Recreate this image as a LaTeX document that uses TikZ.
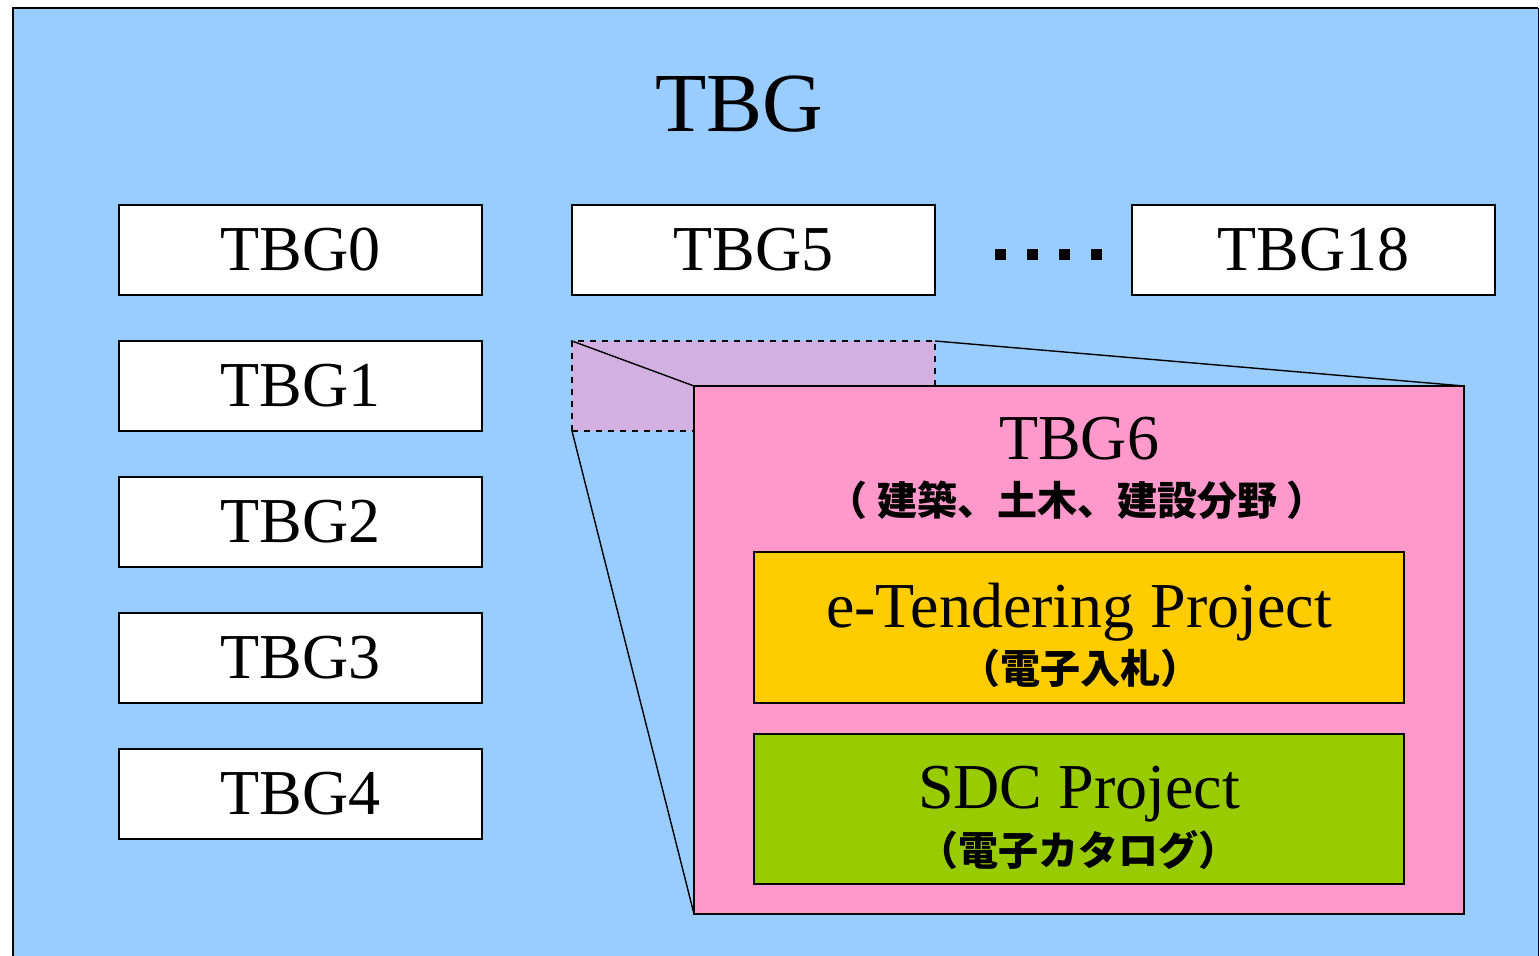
\documentclass[tikz,border=0pt]{standalone}
\usepackage{fontspec}
\setmainfont{Liberation Serif}
\newfontfamily\jp{Noto Sans CJK JP}
\definecolor{bgblue}{HTML}{99CCFF}
\definecolor{pinkbox}{HTML}{FF99CC}
\definecolor{lav}{HTML}{D2B0E2}
\definecolor{yel}{HTML}{FFCC00}
\definecolor{grn}{HTML}{99CC00}
\begin{document}
\begin{tikzpicture}[x=0.5pt,y=-0.5pt,
  tbox/.style={draw=black,line width=0.7pt,fill=white,anchor=north west,inner sep=0pt,outer sep=0pt,minimum width=181.5pt,minimum height=45pt,font=\fontsize{32}{38}\selectfont},
  big/.style={draw=black,line width=0.7pt,anchor=north west,inner sep=0pt,outer sep=0pt},
  lbl/.style={inner sep=0pt,align=center},
  en/.style={font=\fontsize{32}{38}\selectfont,anchor=base},
  jptext/.style={font=\jp\bfseries\fontsize{20}{24}\selectfont}]
\useasboundingbox (0,0) rectangle (1540,956);
\fill[white] (0,0) rectangle (1540,956);
\fill[bgblue] (13,8) rectangle (1538,960);
\draw[line width=1pt] (13,960) -- (13,8) -- (1538,8);
\draw[line width=0.4pt,draw=black!70!blue] (1538,8) -- (1538,960);
\node[lbl,font=\fontsize{42}{48}\selectfont,anchor=base] (title) at (739,132) {TBG};
\node[tbox] (t0) at (119,205) {TBG0};
\node[tbox] (t1) at (119,341) {TBG1};
\node[tbox] (t2) at (119,477) {TBG2};
\node[tbox] (t3) at (119,613) {TBG3};
\node[tbox] (t4) at (119,749) {TBG4};
\node[tbox] (t5) at (572,205) {TBG5};
\node[tbox] (t18) at (1132,205) {TBG18};
\foreach \i in {0,1,2,3}{\fill (995+32*\i,249) rectangle ++(11,11);}
\node[big,dashed,fill=lav,minimum width=181.5pt,minimum height=45pt] (dz) at (572,341) {};
\coordinate (p1) at (694,386);
\coordinate (p2) at (1464,386);
\coordinate (p3) at (694,914);
\draw[line width=0.7pt] (dz.north west) -- (p1);
\draw[line width=0.7pt] (dz.north east) -- (p2);
\draw[line width=0.7pt] (dz.south west) -- (p3);
\node[big,fill=pinkbox,minimum width=385pt,minimum height=264pt] (t6) at (p1) {};
\node[lbl,lbl,en] (t6name) at (1079,459) {TBG6};
\node[lbl,jptext] (t6jp) at (1077,500) {（ 建築、土木、建設分野 ）};
\node[big,fill=yel,minimum width=325pt,minimum height=75.5pt] (et) at (754,552) {};
\node[lbl,en] (etname) at (1079,627) {e-Tendering Project};
\node[lbl,jptext] (etjp) at (1080,668) {（電子入札）};
\node[big,fill=grn,minimum width=325pt,minimum height=75pt] (sdc) at (754,734) {};
\node[lbl,en] (sdcname) at (1079,808) {SDC Project};
\node[lbl,jptext] (sdcjp) at (1078,850) {（電子カタログ）};
\end{tikzpicture}
\end{document}
